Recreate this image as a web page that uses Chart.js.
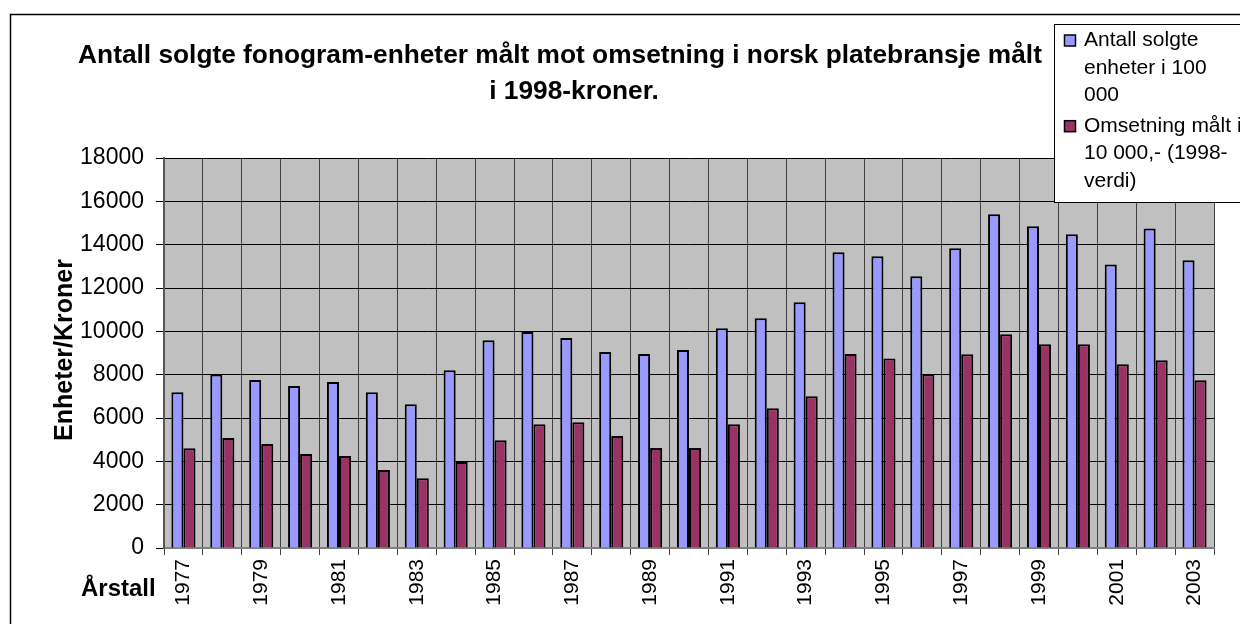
<!DOCTYPE html>
<html>
<head>
<meta charset="utf-8">
<script src="https://cdn.jsdelivr.net/npm/chart.js@4.4.1/dist/chart.umd.min.js"></script>
<style>
html,body{margin:0;padding:0;background:#fff;}
canvas{display:block;}
</style>
</head>
<body>
<canvas id="c" width="1240" height="624"></canvas>
<script>
const years = ['1977','1978','1979','1980','1981','1982','1983','1984','1985','1986','1987','1988','1989','1990','1991','1992','1993','1994','1995','1996','1997','1998','1999','2000','2001','2002','2003'];
const enheter = [7190,8010,7750,7480,7660,7190,6630,8200,9590,9970,9690,9050,8950,9140,10140,10600,11340,13650,13460,12540,13830,15400,14850,14480,13090,14750,13280];
const omsetning = [4600,5080,4800,4340,4250,3600,3220,3970,4970,5710,5800,5170,4620,4620,5710,6450,7000,8950,8750,8020,8940,9860,9400,9400,8480,8660,7740];
const yTicksMax = 18000;
const yTickStep = 2000;
const titleLines = ['Antall solgte fonogram-enheter målt mot omsetning i norsk platebransje målt','i 1998-kroner.'];
const yTitle = 'Enheter/Kroner';
const xTitle = 'Årstall';
const legendItems = [
  {lines:['Antall solgte','enheter i 100','000'], color:'#9999FF'},
  {lines:['Omsetning målt i','10 000,- (1998-','verdi)'], color:'#993366'}
];
const FONT = '"Liberation Sans", Arial, sans-serif';

const decor = {
  id:'decor',
  beforeDraw(chart){
    const ctx = chart.ctx, a = chart.chartArea;
    ctx.save();
    ctx.fillStyle = '#fff';
    ctx.fillRect(0,0,chart.width,chart.height);
    ctx.strokeStyle = '#000';
    ctx.lineWidth = 1.5;
    ctx.strokeRect(10.5,14.5,1400,800);
    ctx.fillStyle = '#C0C0C0';
    ctx.fillRect(a.left,a.top,a.right-a.left,a.bottom-a.top);
    ctx.restore();
  },
  afterDraw(chart){
    const ctx = chart.ctx;
    ctx.save();
    ctx.fillStyle = '#000';
    // title
    ctx.font = 'bold 100px ' + FONT;
    const w = ctx.measureText(titleLines[0]).width;
    const fs = 100*964/w;
    ctx.font = 'bold ' + fs.toFixed(2) + 'px ' + FONT;
    ctx.textAlign = 'center';
    ctx.textBaseline = 'alphabetic';
    ctx.fillText(titleLines[0], 560, 63);
    ctx.fillText(titleLines[1], 574, 99);
    // y title
    ctx.save();
    ctx.translate(65, 350);
    ctx.rotate(-Math.PI/2);
    ctx.font = 'bold 25px ' + FONT;
    ctx.textAlign = 'center';
    ctx.textBaseline = 'middle';
    ctx.fillText(yTitle, 0, 0);
    ctx.restore();
    // x title
    ctx.font = 'bold 24px ' + FONT;
    ctx.textAlign = 'left';
    ctx.textBaseline = 'alphabetic';
    ctx.fillText(xTitle, 81, 596);
    // legend
    ctx.fillStyle = '#fff';
    ctx.fillRect(1054,24,300,178);
    ctx.strokeStyle = '#000';
    ctx.lineWidth = 1;
    ctx.strokeRect(1054.5,24.5,300,178);
    ctx.font = '21px ' + FONT;
    ctx.textAlign = 'left';
    const baseY = [46,131.7];
    legendItems.forEach((it,i)=>{
      const my = baseY[i] - 11;
      ctx.fillStyle = it.color;
      ctx.fillRect(1064.5, my, 11, 11);
      ctx.strokeStyle = '#000';
      ctx.lineWidth = 1.5;
      ctx.strokeRect(1064.5, my, 11, 11);
      ctx.fillStyle = '#000';
      it.lines.forEach((ln,j)=>{
        ctx.fillText(ln, 1084, baseY[i] + j*27.6);
      });
    });
    ctx.restore();
  }
};

new Chart(document.getElementById('c'), {
  type:'bar',
  data:{
    labels: years,
    datasets:[
      {label:'Antall solgte enheter i 100 000', data: enheter, backgroundColor:'#9999FF', borderColor:'#000', borderWidth:2},
      {label:'Omsetning målt i 10 000,- (1998-verdi)', data: omsetning, backgroundColor:'#993366', borderColor:'#000', borderWidth:2}
    ]
  },
  options:{
    responsive:false,
    devicePixelRatio:1,
    animation:false,
    layout:{padding:{top:158,right:26,left:0,bottom:0}},
    datasets:{bar:{categoryPercentage:0.62,barPercentage:1}},
    plugins:{legend:{display:false},title:{display:false},tooltip:{enabled:false}},
    scales:{
      x:{
        offset:true,
        grid:{offset:true,color:'#404040',lineWidth:1,tickLength:7,drawOnChartArea:true},
        border:{color:'#808080',width:2},
        ticks:{
          autoSkip:false,maxRotation:90,minRotation:90,color:'#000',padding:4,
          font:{family:FONT,size:21},
          callback:function(v,i){return i%2===0 ? years[i] : '';}
        },
        afterFit(s){ s.height = 76; }
      },
      y:{
        min:0,max:yTicksMax,
        grid:{color:'#000',lineWidth:1,tickLength:8},
        border:{color:'#555',width:2},
        ticks:{stepSize:yTickStep,color:'#000',padding:12,font:{family:FONT,size:23},
          callback:function(v){return String(v);}},
        afterFit(s){ s.width = 164; }
      }
    }
  },
  plugins:[decor]
});
</script>
</body>
</html>
